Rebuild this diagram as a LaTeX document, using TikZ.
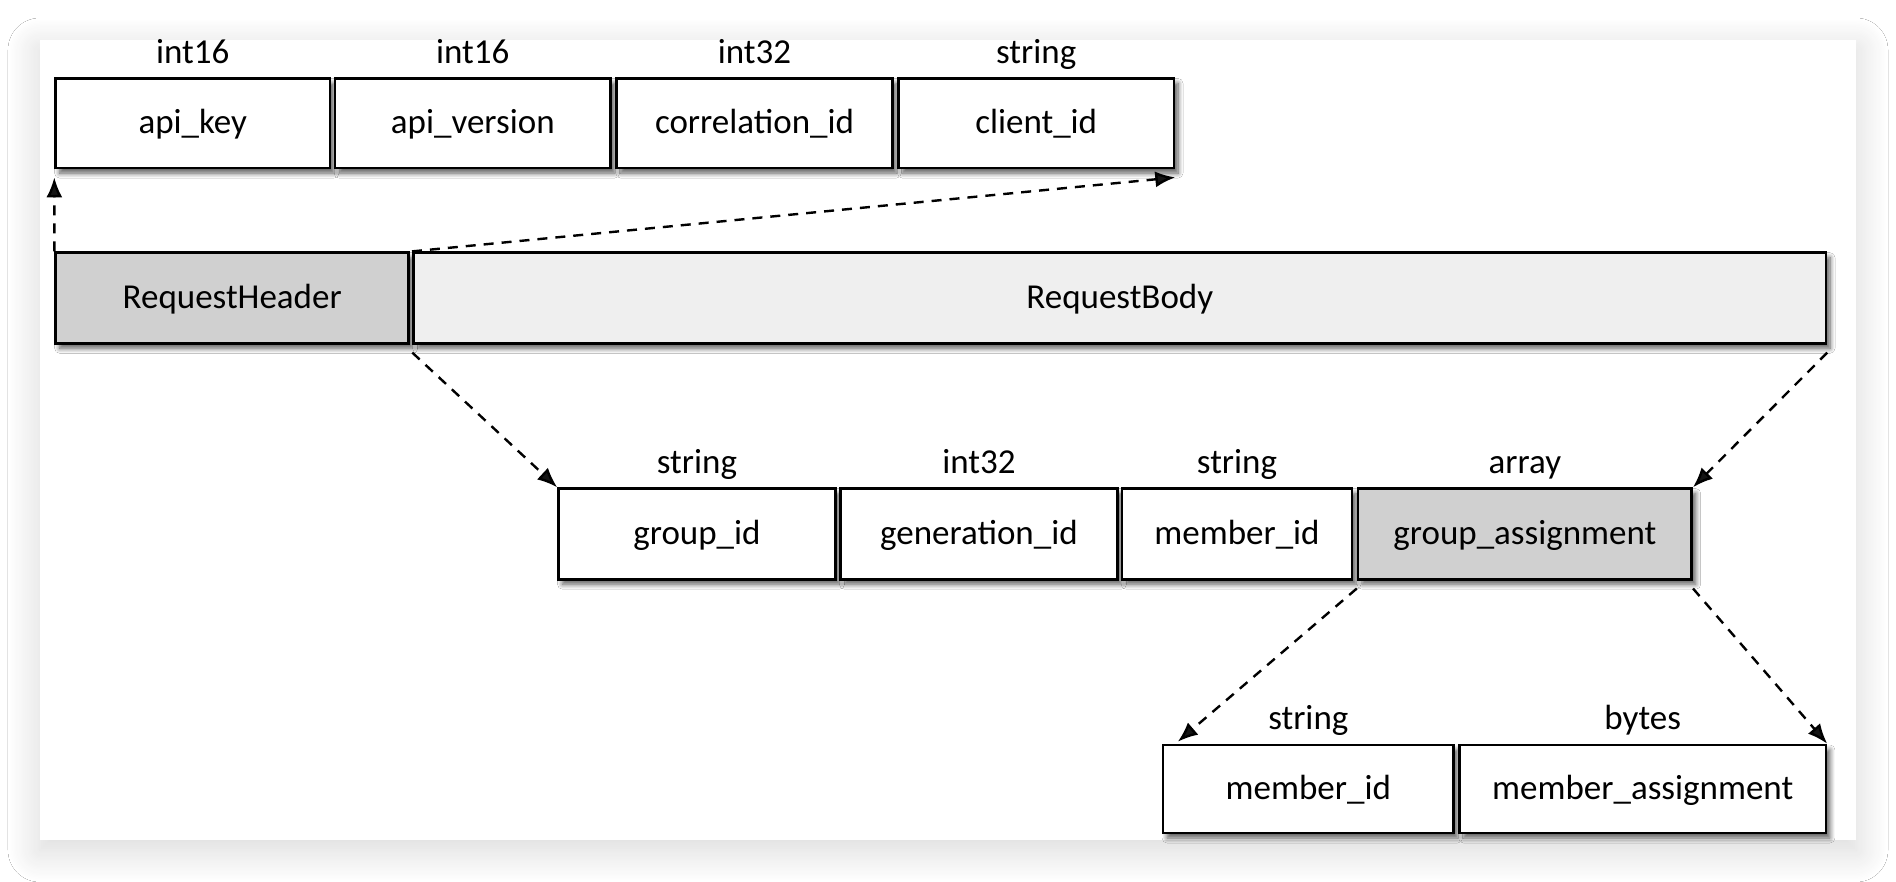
\documentclass[tikz,border=0pt]{standalone}
\usepackage{fontspec}
\setmainfont{Carlito}
\usetikzlibrary{arrows.meta,shadows.blur,calc}
\definecolor{darkfill}{RGB}{208,208,208}
\definecolor{lightfill}{RGB}{239,239,239}
\begin{document}
\begin{tikzpicture}[x=0.5pt,y=-0.5pt,
  box/.style={draw=black, line width=1.3pt, fill=white, minimum height=44.8pt, inner sep=0pt,
    text height=1.12em, text depth=0.05em,
    font=\fontsize{17.5}{20}\selectfont,
    blur shadow={shadow xshift=2pt, shadow yshift=-2.5pt, shadow blur radius=2.5pt, shadow opacity=65, shadow blur steps=8}},
  lab/.style={font=\fontsize{17.5}{20}\selectfont, anchor=base, inner sep=0pt},
  conn/.style={line width=1.2pt, dash pattern=on 5pt off 4pt, -{Latex[length=10pt,width=8pt]}}]
\useasboundingbox (0,0) rectangle (1896,882);
\fill[white] (0,0) rectangle (1896,882);
\fill[white, blur shadow={shadow xshift=0pt, shadow yshift=-5pt, shadow blur radius=16pt, shadow opacity=16, shadow blur steps=24}] (40,40) rectangle (1856,840);

% top row
\node[box, minimum width=137.2pt] (ak) at (192.8,123.3) {api\_key};
\node[box, minimum width=137.8pt] (av) at (472.8,123.3) {api\_version};
\node[box, minimum width=137.8pt] (ci) at (754.5,123.3) {correlation\_id};
\node[box, minimum width=137.8pt] (cl) at (1036.2,123.3) {client\_id};
\node[lab] (akt) at ([yshift=6.6pt]ak.north) {int16};
\node[lab] (avt) at ([yshift=6.6pt]av.north) {int16};
\node[lab] (cit) at ([yshift=6.6pt]ci.north) {int32};
\node[lab] (clt) at ([yshift=6.6pt]cl.north) {string};

% second row
\node[box, fill=darkfill, minimum width=176.5pt, minimum height=45.3pt] (rh) at (232.2,298) {RequestHeader};
\node[box, fill=lightfill, minimum width=706.2pt, minimum height=45.3pt] (rb) at (1119.8,298) {RequestBody};

% third row
\node[box, minimum width=138.5pt, minimum height=45.3pt] (gi) at (697,533.9) {group\_id};
\node[box, minimum width=138.5pt, minimum height=45.3pt] (ge) at (978.9,533.9) {generation\_id};
\node[box, minimum width=115pt, minimum height=45.3pt] (mi) at (1237,533.9) {member\_id};
\node[box, fill=darkfill, minimum width=166.8pt, minimum height=45.3pt] (ga) at (1524.9,533.9) {group\_assignment};
\node[lab] (git) at ([yshift=7pt]gi.north) {string};
\node[lab] (get) at ([yshift=7pt]ge.north) {int32};
\node[lab] (mit) at ([yshift=7pt]mi.north) {string};
\node[lab] (gat) at ([yshift=7pt]ga.north) {array};

% fourth row
\node[box, minimum width=145.2pt, minimum height=44pt] (mb) at (1308.3,789) {member\_id};
\node[box, minimum width=183.2pt, minimum height=44pt] (ma) at (1642.7,789) {member\_assignment};
\node[lab] (mbt) at ([yshift=7pt]mb.north) {string};
\node[lab] (mat) at ([yshift=7pt]ma.north) {bytes};

% connectors
\draw[conn] (rh.north west) -- ([yshift=-4pt]ak.south west);
\draw[conn] ([xshift=1pt]rh.north east) -- ([yshift=-4pt]cl.south east);
\draw[conn] ([yshift=-4pt]rb.south west) -- (gi.north west);
\draw[conn] ([yshift=-4pt]rb.south east) -- (ga.north east);
\draw[conn] ([yshift=-4pt]ga.south west) -- ([xshift=8pt,yshift=1pt]mb.north west);
\draw[conn] ([yshift=-4pt]ga.south east) -- (ma.north east);
\end{tikzpicture}
\end{document}
